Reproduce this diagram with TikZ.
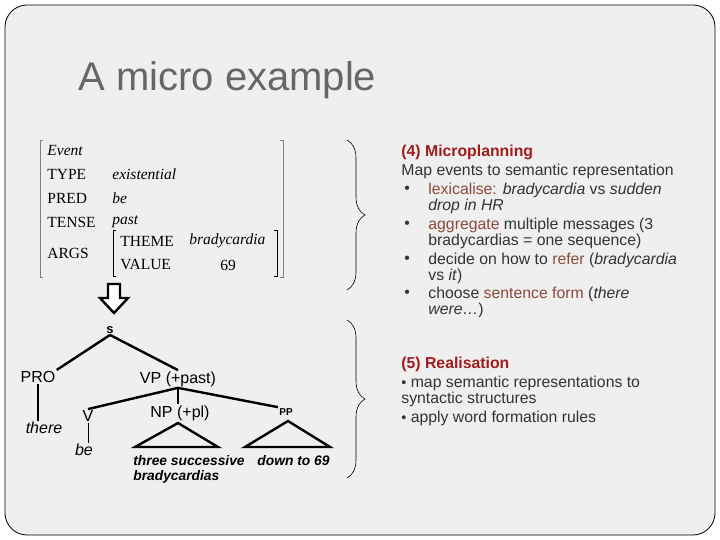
\documentclass[tikz,border=0pt]{standalone}
\usepackage{fontspec}
\setmainfont{Liberation Sans}
\newfontfamily\serif{Liberation Serif}
\usetikzlibrary{arrows.meta}
\usetikzlibrary{decorations.pathreplacing}
\definecolor{slide}{HTML}{EFEFEF}
\definecolor{headred}{HTML}{A01C1C}
\definecolor{keyword}{HTML}{8B4A3A}
\definecolor{bodytext}{HTML}{333333}

\begin{document}
\begin{tikzpicture}[x=1pt, y=-1pt, thick,
    txt/.style = {anchor=west, inner sep=0pt, text=bodytext, font=\fontsize{15.8}{17}\selectfont},
    head/.style = {anchor=west, inner sep=0pt, text=headred, font=\fontsize{15.8}{17}\selectfont\bfseries},
    fs/.style = {anchor=west, inner sep=0pt, font=\serif\fontsize{15.5}{17}\selectfont},
    cat/.style = {inner sep=1pt, font=\fontsize{16}{18}\selectfont},
    leaf/.style = {anchor=west, inner sep=0pt, font=\fontsize{13.8}{16}\selectfont\bfseries\itshape},
    branch/.style = {line width=2.4pt},
    brace/.style = {decorate, decoration={brace, amplitude=18pt}, line width=0.6pt}]
    \useasboundingbox (0,0) rectangle (720,540);
    \draw[fill=slide, rounded corners=22pt, line width=0.8pt] (5,5) rectangle (715,535);
    \node[anchor=west, inner sep=0pt, text=black!60, font=\fontsize{40}{42}\selectfont] (title) at (78,80) {A micro example};

    % Feature structure
    \draw[gray, line width=0.8pt] (43,140) -- (40,140) -- (40,277) -- (43,277);
    \draw[gray, line width=0.8pt] (280,140) -- (283,140) -- (283,277) -- (280,277);
    \draw[line width=0.6pt] (116,230) -- (113,230) -- (113,276) -- (116,276);
    \draw[line width=0.6pt] (274,230) -- (277,230) -- (277,276) -- (274,276);
    \node[fs] (ev) at (47,151) {\itshape Event};
    \node[fs] (type) at (47,174) {TYPE};
    \node[fs] (pred) at (47,198) {PRED};
    \node[fs] (tense) at (47,222) {TENSE};
    \node[fs] (args) at (47,253) {ARGS};
    \node[fs] (typev) at (112,174) {\itshape existential};
    \node[fs] (predv) at (112,198) {\itshape be};
    \node[fs] (tensev) at (112,222) {\itshape past};
    \node[fs] (theme) at (120,241) {THEME};
    \node[fs] (value) at (120,265) {VALUE};
    \node[fs] (themev) at (189,241) {\itshape bradycardia};
    \node[fs] (valuev) at (220,265) {69};

    % Hollow arrow
    \draw[line width=2.4pt, fill=white] (108,284) -- (120,284) -- (120,298) -- (128,298)
        -- (114,313) -- (100,298) -- (108,298) -- cycle;

    % Braces
    \draw[brace] (347,140) -- (347,290);
    \draw[brace] (347,320) -- (347,478);

    % Microplanning
    \node[head] (micro) at (401,152) {(4) Microplanning};
    \node[txt] (m0) at (401,171) {Map events to semantic representation};
    \foreach \y in {190,225,260,294}
        \node[txt] at (404,\y) {\textbullet};
    \node[txt] (m1) at (428,190) {\textcolor{keyword}{lexicalise:} \textit{bradycardia} vs \textit{sudden}};
    \node[txt] (m1b) at (428,206) {\textit{drop in HR}};
    \node[txt] (m2) at (428,225) {\textcolor{keyword}{aggregate} multiple messages (3};
    \node[txt] (m2b) at (428,241) {bradycardias = one sequence)};
    \node[txt] (m3) at (428,260) {decide on how to \textcolor{keyword}{refer} (\textit{bradycardia}};
    \node[txt] (m3b) at (428,276) {vs \textit{it})};
    \node[txt] (m4) at (428,294) {choose \textcolor{keyword}{sentence form} (\textit{there}};
    \node[txt] (m4b) at (428,310) {\textit{were\dots})};

    % Realisation
    \node[head] (real) at (401,364) {(5) Realisation};
    \node[txt] (r1) at (401,383) {{\Large\textbullet} map semantic representations to};
    \node[txt] (r1b) at (401,399) {syntactic structures};
    \node[txt] (r2) at (401,418) {{\Large\textbullet} apply word formation rules};

    % Syntax tree
    \node[cat, font=\fontsize{13}{14}\selectfont\bfseries] (s) at (110,330) {s};
    \node[cat] (pro) at (38,377) {PRO};
    \node[cat] (vp) at (178,379) {VP (+past)};
    \node[cat] (v) at (88,416) {V};
    \node[cat] (np) at (180,413) {NP (+pl)};
    \node[cat, font=\fontsize{10}{11}\selectfont\bfseries] (pp) at (286,412) {PP};
    \node[cat, font=\fontsize{16}{18}\selectfont\itshape] (there) at (44,428) {there};
    \node[cat, font=\fontsize{16}{18}\selectfont\itshape] (be) at (84,450) {be};
    \draw[branch] (s.south) -- (pro.north east);
    \draw[branch] (s.south) -- (vp.north);
    \draw[branch] (pro.south) -- (there.north -| pro.south);
    \draw[branch] (vp.south) -- (v.north);
    \draw[branch] (vp.south) -- (np.north -| vp.south);
    \draw[branch] (vp.south) -- (pp.north west);
    \draw[line width=0.6pt] (v.south) -- (be.north -| v.south);
    \draw[branch, line join=miter] (178,423) -- (218,447) -- (135,447) -- cycle;
    \draw[branch, line join=miter] (288,421) -- (330,447) -- (245,447) -- cycle;
    \node[leaf] (np1) at (133,461) {three successive};
    \node[leaf] (np2) at (133,477) {bradycardias};
    \node[leaf] (pp1) at (257,461) {down to 69};
\end{tikzpicture}
\end{document}
